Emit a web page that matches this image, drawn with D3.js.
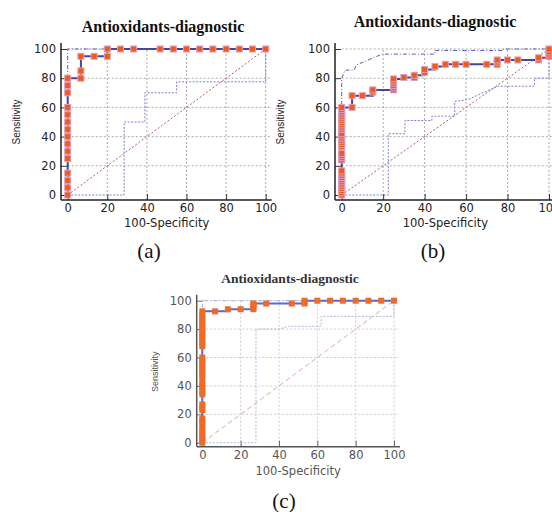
<!DOCTYPE html>
<html>
<head>
<meta charset="utf-8">
<script src="https://cdn.jsdelivr.net/npm/d3@7"></script>
<style>
  body { margin: 0; background: #fff; }
  svg { display: block; }
</style>
</head>
<body>
<svg id="chart" width="552" height="512"></svg>
<script>
// ROC points (100-Specificity, Sensitivity)
var aSpec = [0, 0, 0, 0, 0, 0, 0, 0, 0, 0, 0, 0, 0, 0, 0, 6.67, 6.67, 6.67, 13.33, 20, 20, 26.67, 33.33, 46.67, 53.33, 60, 66.67, 73.33, 80, 86.67, 93.33, 100]
var aSens = [0, 5, 10, 15, 25, 30, 35, 40, 45, 50, 55, 60, 70, 75, 80, 80, 85, 95, 95, 95, 100, 100, 100, 100, 100, 100, 100, 100, 100, 100, 100, 100]
var aLowX = [0, 28.5, 28.5, 39, 39, 55, 55, 100, 100]
var aLowY = [0, 0, 50, 50, 70, 70, 77.5, 77.5, 100]
var aUpX = [0, 0, 100]
var aUpY = [0, 100, 100]

var bSpec = [0, 0, 0, 0, 0, 0, 0, 0, 0, 0, 0, 0, 0, 0, 0, 0, 0, 0, 0, 0, 0, 0, 0, 0, 0, 0, 0, 0, 0, 0, 0, 0, 0, 0,
  5, 5, 10, 15, 15, 25, 25, 25, 25, 25, 25, 30, 35, 35, 40, 40, 45, 50, 55, 60, 70, 75, 75, 75, 80, 85, 95, 95, 100, 100, 100, 100]
var bSens = [0, 1.5, 3, 4.5, 6, 7.5, 9, 10.5, 12, 13.5, 15, 16.5, 24, 25.5, 27, 28.5, 33, 34.5, 36, 37.5, 39, 40.5, 42, 45, 46.5, 48, 49.5, 51, 52.5, 54, 55.5, 57, 58.5, 60,
  60, 68, 68, 70.5, 72, 72, 73.5, 75, 76.5, 78, 79.5, 80.5, 80.5, 82, 84, 86, 88, 89.5, 89.5, 89.5, 89.5, 89.5, 91, 92.5, 92.5, 92.5, 92.5, 94, 95, 96.5, 98, 100]
var bLowX = [0, 22.5, 22.5, 30.5, 30.5, 43.5, 43.5, 54.5, 54.5, 59, 62, 68, 75.5, 93, 93, 100, 100]
var bLowY = [0, 0, 42, 42, 51, 51, 54, 54, 64, 65, 66, 70, 74.5, 74.5, 80, 80, 100]
var bUpX = [0, 0, 1.6, 6, 7, 12, 19.5, 45, 45, 78, 78, 100]
var bUpY = [0, 80, 85.5, 85.5, 89, 92, 96.5, 96.5, 99, 99, 100, 100]

var cSpec = [0, 0, 0, 0, 0, 0, 0, 0, 0, 0, 0, 0, 0, 0, 0, 0, 0, 0, 0, 0, 0, 0, 0, 0, 0, 0, 0, 0, 0, 0, 0, 0, 0, 0, 0, 0, 0, 0,
  6.67, 13.33, 20, 26.67, 26.67, 26.67, 26.67, 33.33, 46.67, 53.33, 53.33, 53.33, 60, 66.67, 73.33, 80, 86.67, 93.33, 100]
var cSens = [0, 2, 4, 6, 8, 10, 13, 15, 17, 23, 25, 27, 34, 36, 38, 40, 42, 46, 48, 50, 52, 54, 56, 58, 60, 68, 70, 72, 74, 76, 78, 80, 82, 84, 86, 88, 90, 92.5,
  92.5, 94, 94, 94, 95.5, 97, 98, 98, 98, 98, 99, 100, 100, 100, 100, 100, 100, 100, 100]
var cLowX = [0, 28, 28, 40, 45, 62, 62, 100, 100]
var cLowY = [0, 0, 80, 80, 82, 82, 89, 89, 100]
var cUpX = [0, 0, 100]
var cUpY = [0, 100, 100]

var tickValues = [0, 20, 40, 60, 80, 100]
var minorValues = d3.range(0, 101, 5)
var chartTitle = 'Antioxidants-diagnostic'
var xLabel = '100-Specificity'
var yLabel = 'Sensitivity'

var panels = [
  { tag: '(a)', tagX: 149, tagY: 258, xr: [67.7, 265.7], yr: [195, 49], axX: 61, axY: 200, titleX: 163, titleY: 32, titleSize: 16,
    sensX: 20, xLabelY: 227, spec: aSpec, sens: aSens, lowX: aLowX, lowY: aLowY, upX: aUpX, upY: aUpY, faded: false },
  { tag: '(b)', tagX: 433, tagY: 258, xr: [341.7, 549], yr: [195, 49], axX: 335, axY: 200, titleX: 435, titleY: 27, titleSize: 16,
    sensX: 284, xLabelY: 227, spec: bSpec, sens: bSens, lowX: bLowX, lowY: bLowY, upX: bUpX, upY: bUpY, faded: false },
  { tag: '(c)', tagX: 284, tagY: 508, xr: [202.3, 394], yr: [442.7, 300.7], axX: 196.7, axY: 446.7, titleX: 290, titleY: 283, titleSize: 13.5,
    sensX: 158, xLabelY: 475, spec: cSpec, sens: cSens, lowX: cLowX, lowY: cLowY, upX: cUpX, upY: cUpY, faded: true }
]

var svg = d3.select('#chart')

function drawPanel (p) {
  var x = d3.scaleLinear().domain([0, 100]).range(p.xr)
  var y = d3.scaleLinear().domain([0, 100]).range(p.yr)
  var g = svg.append('g')
  var textCol = p.faded ? '#555' : '#222'

  // grid
  g.selectAll('.gx').data(tickValues.slice(1)).enter().append('line')
    .attr('x1', d => x(d)).attr('x2', d => x(d))
    .attr('y1', p.axY).attr('y2', y(100))
    .attr('stroke', p.faded ? '#ccc' : '#aaa').attr('stroke-dasharray', '2,2')
  g.selectAll('.gy').data(tickValues.slice(1)).enter().append('line')
    .attr('x1', x(0)).attr('x2', x(100) + 5)
    .attr('y1', d => y(d)).attr('y2', d => y(d))
    .attr('stroke', p.faded ? '#ccc' : '#aaa').attr('stroke-dasharray', '2,2')

  // axes
  var left = g.append('g').attr('transform', 'translate(' + p.axX + ',0)')
  left.call(d3.axisLeft(y).tickValues(minorValues).tickSize(-3).tickFormat(''))
  left.call(d3.axisLeft(y).tickValues(tickValues).tickSize(-6).tickPadding(5))
  var bottom = g.append('g').attr('transform', 'translate(0,' + p.axY + ')')
  bottom.call(d3.axisBottom(x).tickValues(minorValues).tickSize(-3).tickFormat(''))
  bottom.call(d3.axisBottom(x).tickValues(tickValues).tickSize(-6).tickPadding(4))
  g.selectAll('.domain').remove()
  g.selectAll('.tick line').attr('stroke', p.faded ? '#666' : '#333')
  g.selectAll('.tick text').attr('fill', textCol)
    .style('font-family', '"DejaVu Sans", sans-serif').style('font-size', '11.5px')
  g.append('line').attr('x1', p.axX).attr('x2', p.axX).attr('y1', p.axY).attr('y2', y(100) - 6)
    .attr('stroke', p.faded ? '#555' : '#222').attr('stroke-width', 1.5)
  g.append('line').attr('x1', p.axX).attr('x2', x(100) + 6).attr('y1', p.axY).attr('y2', p.axY)
    .attr('stroke', p.faded ? '#555' : '#222').attr('stroke-width', 1.5)

  // diagonal reference
  g.append('line').attr('x1', x(0)).attr('y1', y(0)).attr('x2', x(100)).attr('y2', y(100))
    .attr('stroke', p.faded ? '#e0a8a8' : '#b85a5a')
    .attr('stroke-dasharray', p.faded ? '5,3' : '2,2')

  // confidence bounds
  var ci = d3.line().x(d => x(d[0])).y(d => y(d[1]))
  g.append('path').attr('d', ci(d3.zip(p.lowX, p.lowY)))
    .attr('fill', 'none').attr('stroke', p.faded ? '#b0b6dc' : '#7d7dd8').attr('stroke-dasharray', '2,1.5')
  g.append('path').attr('d', ci(d3.zip(p.upX, p.upY)))
    .attr('fill', 'none').attr('stroke', p.faded ? '#a8b0e0' : '#5a5ab8').attr('stroke-dasharray', '4,2,1,2')

  // ROC curve
  var pts = d3.zip(p.spec, p.sens)
  var roc = d3.line().x(d => x(d[0])).y(d => y(d[1])).curve(d3.curveStepAfter)
  g.append('path').attr('d', roc(pts))
    .attr('fill', 'none').attr('stroke', p.faded ? '#5a6ad0' : '#4545a5').attr('stroke-width', 2)
  g.selectAll('.pt').data(pts).enter().append('rect')
    .attr('x', d => x(d[0]) - 3).attr('y', d => y(d[1]) - 3)
    .attr('width', 6).attr('height', 6)
    .attr('fill', p.faded ? '#f06a28' : '#f25a18')
    .attr('stroke', p.faded ? 'none' : '#dba0c4').attr('stroke-width', 1)

  // texts
  g.append('text').attr('x', p.titleX).attr('y', p.titleY).attr('text-anchor', 'middle')
    .style('font-family', '"Liberation Serif", "Times New Roman", serif').style('font-weight', 'bold')
    .style('font-size', p.titleSize + 'px').attr('fill', p.faded ? '#333' : '#111').text(chartTitle)
  g.append('text').attr('x', (x(0) + x(100)) / 2).attr('y', p.xLabelY).attr('text-anchor', 'middle')
    .style('font-family', '"DejaVu Sans", sans-serif').style('font-size', '11.5px')
    .attr('fill', textCol).text(xLabel)
  g.append('text').attr('transform', 'translate(' + p.sensX + ',' + ((y(0) + y(100)) / 2) + ') rotate(-90)')
    .attr('text-anchor', 'middle')
    .style('font-family', '"Liberation Sans", Arial, sans-serif').style('font-size', p.faded ? '9px' : '10px')
    .attr('fill', textCol).text(yLabel)
  svg.append('text').attr('x', p.tagX).attr('y', p.tagY).attr('text-anchor', 'middle')
    .style('font-family', '"Liberation Serif", "Times New Roman", serif').style('font-size', '21px')
    .attr('fill', '#111').text(p.tag)
}

panels.forEach(drawPanel)
</script>
</body>
</html>
